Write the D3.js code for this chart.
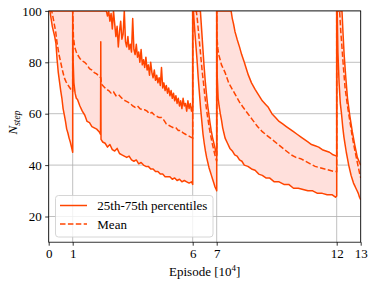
<!DOCTYPE html>
<html><head><meta charset="utf-8">
<script src="https://cdn.jsdelivr.net/npm/d3@7"></script>
<style>body{margin:0;background:#fff}svg{display:block}</style>
</head><body>
<svg id="c" width="374" height="286"></svg>
<script>
// ---- data (episode in 1e4, N_step) ----
const xTicks = [0, 1, 6, 7, 12, 13];
const yTicks = [20, 40, 60, 80, 100];
const legendLabels = ["25th-75th percentiles", "Mean"];

// 25th percentile
const p25 = [
 [0,100],[0.05,100],[0.1,97],[0.15,94],[0.2,92],[0.25,90],[0.3,87.5],[0.35,81],[0.4,76],[0.45,72.5],[0.5,69],[0.55,66],[0.6,62],[0.65,59.5],[0.7,57],[0.75,54],[0.8,52.5],[0.85,50.5],[0.9,49],[0.95,47],[1.0,45],
 [1.0,100],[1.02,80],[1.05,72],[1.1,68],[1.15,66],[1.2,65.5],[1.3,63],[1.4,61],[1.5,59.5],[1.6,57],[1.7,56.5],[1.8,55],[1.9,54.5],[2.0,54],[2.1,53],[2.16,52],[2.17,88],[2.18,50],[2.25,49],[2.35,48.5],[2.45,47],[2.55,48],[2.65,46],[2.75,45.5],[2.85,46.5],[2.95,44.5],[3.05,44],[3.15,43.5],[3.25,43],[3.35,43.5],[3.45,42],[3.55,41.5],[3.65,42],[3.75,40.5],[3.85,41],[3.95,40],[4.05,39.5],[4.15,39.5],[4.25,38.5],[4.35,38.5],[4.45,37.5],[4.55,37.5],[4.65,36.5],[4.75,36.5],[4.85,35.5],[4.95,35.5],[5.05,35.5],[5.15,34.5],[5.25,35],[5.35,34],[5.45,34.5],[5.55,33.5],[5.65,34],[5.75,33.5],[5.85,33],[5.95,33.5],[6.0,32.5],
 [6.0,100],[6.03,100],[6.08,93],[6.13,87],[6.18,81],[6.23,74],[6.28,68],[6.33,62],[6.38,57],[6.43,52],[6.48,48.5],[6.53,45.5],[6.58,43],[6.63,41],[6.68,39],[6.73,37.5],[6.78,36],[6.83,34.5],[6.88,33],[6.93,31.5],[6.98,30.5],[7.0,30],
 [7.0,100],[7.02,75],[7.06,66],[7.1,63],[7.15,60],[7.2,57.5],[7.25,54.5],[7.3,52.5],[7.35,50.5],[7.45,48.5],[7.55,46.5],[7.65,45.5],[7.75,44],[7.85,43.5],[7.95,42],[8.05,41.5],[8.15,40],[8.3,39.5],[8.45,38.5],[8.6,38],[8.75,36.5],[8.9,36],[9.05,35],[9.2,35],[9.4,33.5],[9.6,33.5],[9.8,32.5],[10.0,32.5],[10.2,31],[10.4,31],[10.6,30.5],[10.8,30],[11.0,30],[11.2,29],[11.4,29],[11.6,28.5],[11.8,28.5],[11.95,27.5],[12.0,28],
 [12.0,100],[12.02,100],[12.05,84],[12.1,72],[12.15,64],[12.2,60],[12.25,55],[12.3,51],[12.35,48],[12.4,45],[12.45,42.5],[12.5,40],[12.55,38],[12.6,36],[12.65,34.5],[12.7,33],[12.75,32],[12.8,31],[12.85,30],[12.9,29],[12.95,27.5],[13.0,26.5]
];

// mean
const meanVals = [
 [0,100],[0.12,100],[0.15,99],[0.2,96.5],[0.25,94],[0.29,92],[0.35,87.5],[0.43,83],[0.5,80],[0.57,77],[0.65,74],[0.72,72.5],[0.78,71.5],[0.85,70.5],[0.92,69.5],[0.98,69],[1.0,68.5],
 [1.0,100],[1.03,90],[1.08,86],[1.15,84],[1.2,83],[1.3,81.5],[1.4,80.5],[1.5,80],[1.6,79],[1.7,77.5],[1.8,77],[1.9,76],[2.0,75.5],[2.1,74.5],[2.17,74],[2.2,71.5],[2.3,70.5],[2.4,69.5],[2.5,69],[2.6,68],[2.7,68.5],[2.8,67],[2.9,67.5],[3.0,66.5],[3.1,65.5],[3.2,65],[3.3,64.5],[3.4,64],[3.5,63],[3.6,62.5],[3.7,63],[3.8,62],[3.9,61.5],[4.0,61.5],[4.1,61],[4.2,60],[4.3,60.5],[4.4,59.5],[4.5,59],[4.6,58.5],[4.7,58.5],[4.8,57.5],[4.9,56],[5.0,55.5],[5.1,55],[5.2,54.5],[5.3,54.5],[5.4,53.5],[5.5,53.5],[5.6,52.5],[5.7,52],[5.8,51.5],[5.9,51],[6.0,50.5],
 [6.0,100],[6.15,100],[6.2,96],[6.25,91],[6.3,86],[6.35,81],[6.4,76],[6.45,72],[6.5,67.5],[6.55,63.5],[6.6,60],[6.65,57],[6.7,54],[6.75,51.5],[6.8,49],[6.85,47],[6.9,45],[6.95,43],[7.0,41.5],
 [7.0,100],[7.01,90],[7.05,85],[7.1,82.5],[7.2,79],[7.35,76],[7.5,72],[7.65,69.5],[7.8,67],[7.95,64.5],[8.1,62.5],[8.3,60],[8.5,57.5],[8.7,55],[8.9,53],[9.1,51.5],[9.3,50],[9.5,48.5],[9.7,47],[9.9,45.5],[10.1,44],[10.3,43],[10.5,42.5],[10.7,41.5],[10.9,40.5],[11.1,39.5],[11.3,39],[11.5,38.5],[11.7,38],[11.9,37.5],[12.0,37.5],
 [12.0,100],[12.12,100],[12.17,92],[12.21,87],[12.28,78],[12.35,70],[12.45,63],[12.55,57],[12.65,51],[12.75,46],[12.85,41.5],[12.95,37],[13.0,35]
];

// 75th percentile
const p75 = [
 [0,100],[1.0,100],
 [2.4,100],[2.45,98],[2.5,100],[2.55,96],[2.6,99],[2.65,93],[2.7,100],[2.75,95],[2.8,90],[2.85,94],[2.9,86],[2.95,92],[3.0,96],[3.05,89],[3.1,91],[3.15,100],[3.2,88],[3.25,86],[3.3,90],[3.35,85],[3.4,87],[3.45,84],[3.5,97],[3.55,85],[3.6,83],[3.65,87],[3.7,82],[3.75,84],[3.8,80],[3.85,85],[3.9,79],[3.95,81],[4.0,78],[4.05,82],[4.1,77],[4.15,79],[4.2,75],[4.25,80],[4.3,76],[4.35,74],[4.4,77],[4.45,73],[4.5,75],[4.55,72],[4.6,74],[4.65,71],[4.7,78],[4.75,70],[4.8,72],[4.85,69],[4.9,71],[4.95,68],[5.0,70],[5.05,67],[5.1,69],[5.15,66],[5.2,68],[5.25,65],[5.3,67],[5.35,64],[5.4,66],[5.45,63],[5.5,65],[5.55,62],[5.6,66],[5.65,63],[5.7,64],[5.75,61],[5.8,65],[5.85,62],[5.9,64],[5.95,61],[6.0,63],
 [6.0,100],[6.32,100],[6.37,93],[6.42,86],[6.47,79],[6.52,73],[6.57,68],[6.62,63.5],[6.67,60],[6.72,56.5],[6.77,53.5],[6.82,51],[6.87,49],[6.92,47],[6.97,45],[7.0,44],
 [7.0,100],[7.6,100],[7.65,97],[7.7,95],[7.76,92],[7.85,89],[7.95,86],[8.04,83],[8.15,80],[8.25,77],[8.32,75],[8.45,72],[8.6,69.5],[8.73,67.5],[8.9,65],[9.05,63.5],[9.15,62.5],[9.3,60],[9.45,58.5],[9.6,57],[9.75,56],[9.9,55],[10.05,54],[10.2,53],[10.35,52],[10.5,51],[10.65,50],[10.8,49],[10.95,48],[11.1,47.5],[11.25,47],[11.4,46],[11.55,45.5],[11.7,45],[11.85,44],[12.0,43.5],
 [12.0,100],[12.22,100],[12.26,92],[12.31,83],[12.38,74],[12.45,66],[12.55,59],[12.65,53],[12.75,48],[12.86,43],[12.95,41],[13.0,40]
];

// ---- drawing ----
const W = 374, H = 286;
const L = 48.7, R = 360.7, T = 10.9, B = 242.2;
const svg = d3.select("#c");
const x = d3.scaleLinear().domain([0, 13]).range([L, R]);
const y = d3.scaleLinear().domain([10, 100]).range([B, T]);
const font = "'Liberation Serif','Times New Roman',serif";
const col = "#ff4500";

svg.append("defs").append("clipPath").attr("id", "clip")
  .append("rect").attr("x", L).attr("y", T).attr("width", R - L).attr("height", B - T);

// grid
const grid = svg.append("g");
grid.selectAll(".gx").data(xTicks).join("line")
  .attr("x1", d => x(d)).attr("x2", d => x(d)).attr("y1", T).attr("y2", B)
  .attr("stroke", "#b0b0b0").attr("stroke-width", 0.8);
grid.selectAll(".gy").data(yTicks).join("line")
  .attr("x1", L).attr("x2", R).attr("y1", d => y(d)).attr("y2", d => y(d))
  .attr("stroke", "#b0b0b0").attr("stroke-width", 0.8);

const plot = svg.append("g").attr("clip-path", "url(#clip)");
const line = d3.line().x(d => x(d[0])).y(d => y(d[1]));

// fill between percentiles
const band = p75.concat(p25.slice().reverse());
plot.append("path").attr("d", line(band) + "Z")
  .attr("fill", "#ffe0dc").attr("stroke", "none");

plot.append("path").attr("d", line(p25)).attr("fill", "none")
  .attr("stroke", col).attr("stroke-width", 1.5).attr("stroke-linejoin", "round");
plot.append("path").attr("d", line(p75)).attr("fill", "none")
  .attr("stroke", col).attr("stroke-width", 1.5).attr("stroke-linejoin", "round");
plot.append("path").attr("d", line(meanVals)).attr("fill", "none")
  .attr("stroke", col).attr("stroke-width", 1.5).attr("stroke-dasharray", "5.5,2.4");

// axes
const xAxis = d3.axisBottom(x).tickValues(xTicks).tickFormat(d3.format("d")).tickSize(3.5).tickPadding(3.5);
const yAxis = d3.axisLeft(y).tickValues(yTicks).tickFormat(d3.format("d")).tickSize(3.5).tickPadding(3.5);
const gx = svg.append("g").attr("transform", `translate(0,${B})`).call(xAxis);
const gy = svg.append("g").attr("transform", `translate(${L},0)`).call(yAxis);
[gx, gy].forEach(g => {
  g.select(".domain").remove();
  g.selectAll("line").attr("stroke", "#000").attr("stroke-width", 0.8);
  g.selectAll("text").attr("font-family", font).attr("font-size", 13).attr("fill", "#000");
});

// frame
svg.append("rect").attr("x", L).attr("y", T).attr("width", R - L).attr("height", B - T)
  .attr("fill", "none").attr("stroke", "#000").attr("stroke-width", 0.8);

// axis labels
const xl = svg.append("text").attr("x", (L + R) / 2).attr("y", 276)
  .attr("text-anchor", "middle").attr("font-family", font).attr("font-size", 13);
xl.append("tspan").text("Episode [10");
xl.append("tspan").attr("dy", -5).attr("font-size", 9).text("4");
xl.append("tspan").attr("dy", 5).text("]");

const yl = svg.append("text").attr("transform", `translate(16.5,${(T + B) / 2 - 4}) rotate(-90)`)
  .attr("text-anchor", "middle").attr("font-family", font).attr("font-size", 13).attr("font-style", "italic");
yl.append("tspan").text("N");
yl.append("tspan").attr("dy", 3).attr("font-size", 9.5).text("step");

// legend
const lg = svg.append("g");
lg.append("rect").attr("x", 55.5).attr("y", 195.5).attr("width", 157.5).attr("height", 41.5)
  .attr("rx", 3).attr("fill", "#fff").attr("fill-opacity", 0.8)
  .attr("stroke", "#cccccc").attr("stroke-width", 0.8);
const rows = [205.5, 224];
lg.selectAll(".ll").data(legendLabels).join("line")
  .attr("x1", 60).attr("x2", 87).attr("y1", (d, i) => rows[i]).attr("y2", (d, i) => rows[i])
  .attr("stroke", col).attr("stroke-width", 1.5)
  .attr("stroke-dasharray", (d, i) => i === 1 ? "5.5,2.4" : null);
lg.selectAll(".lt").data(legendLabels).join("text")
  .attr("x", 97.3).attr("y", (d, i) => rows[i] + 4.5)
  .attr("font-family", font).attr("font-size", 13).text(d => d);
</script>
</body></html>
